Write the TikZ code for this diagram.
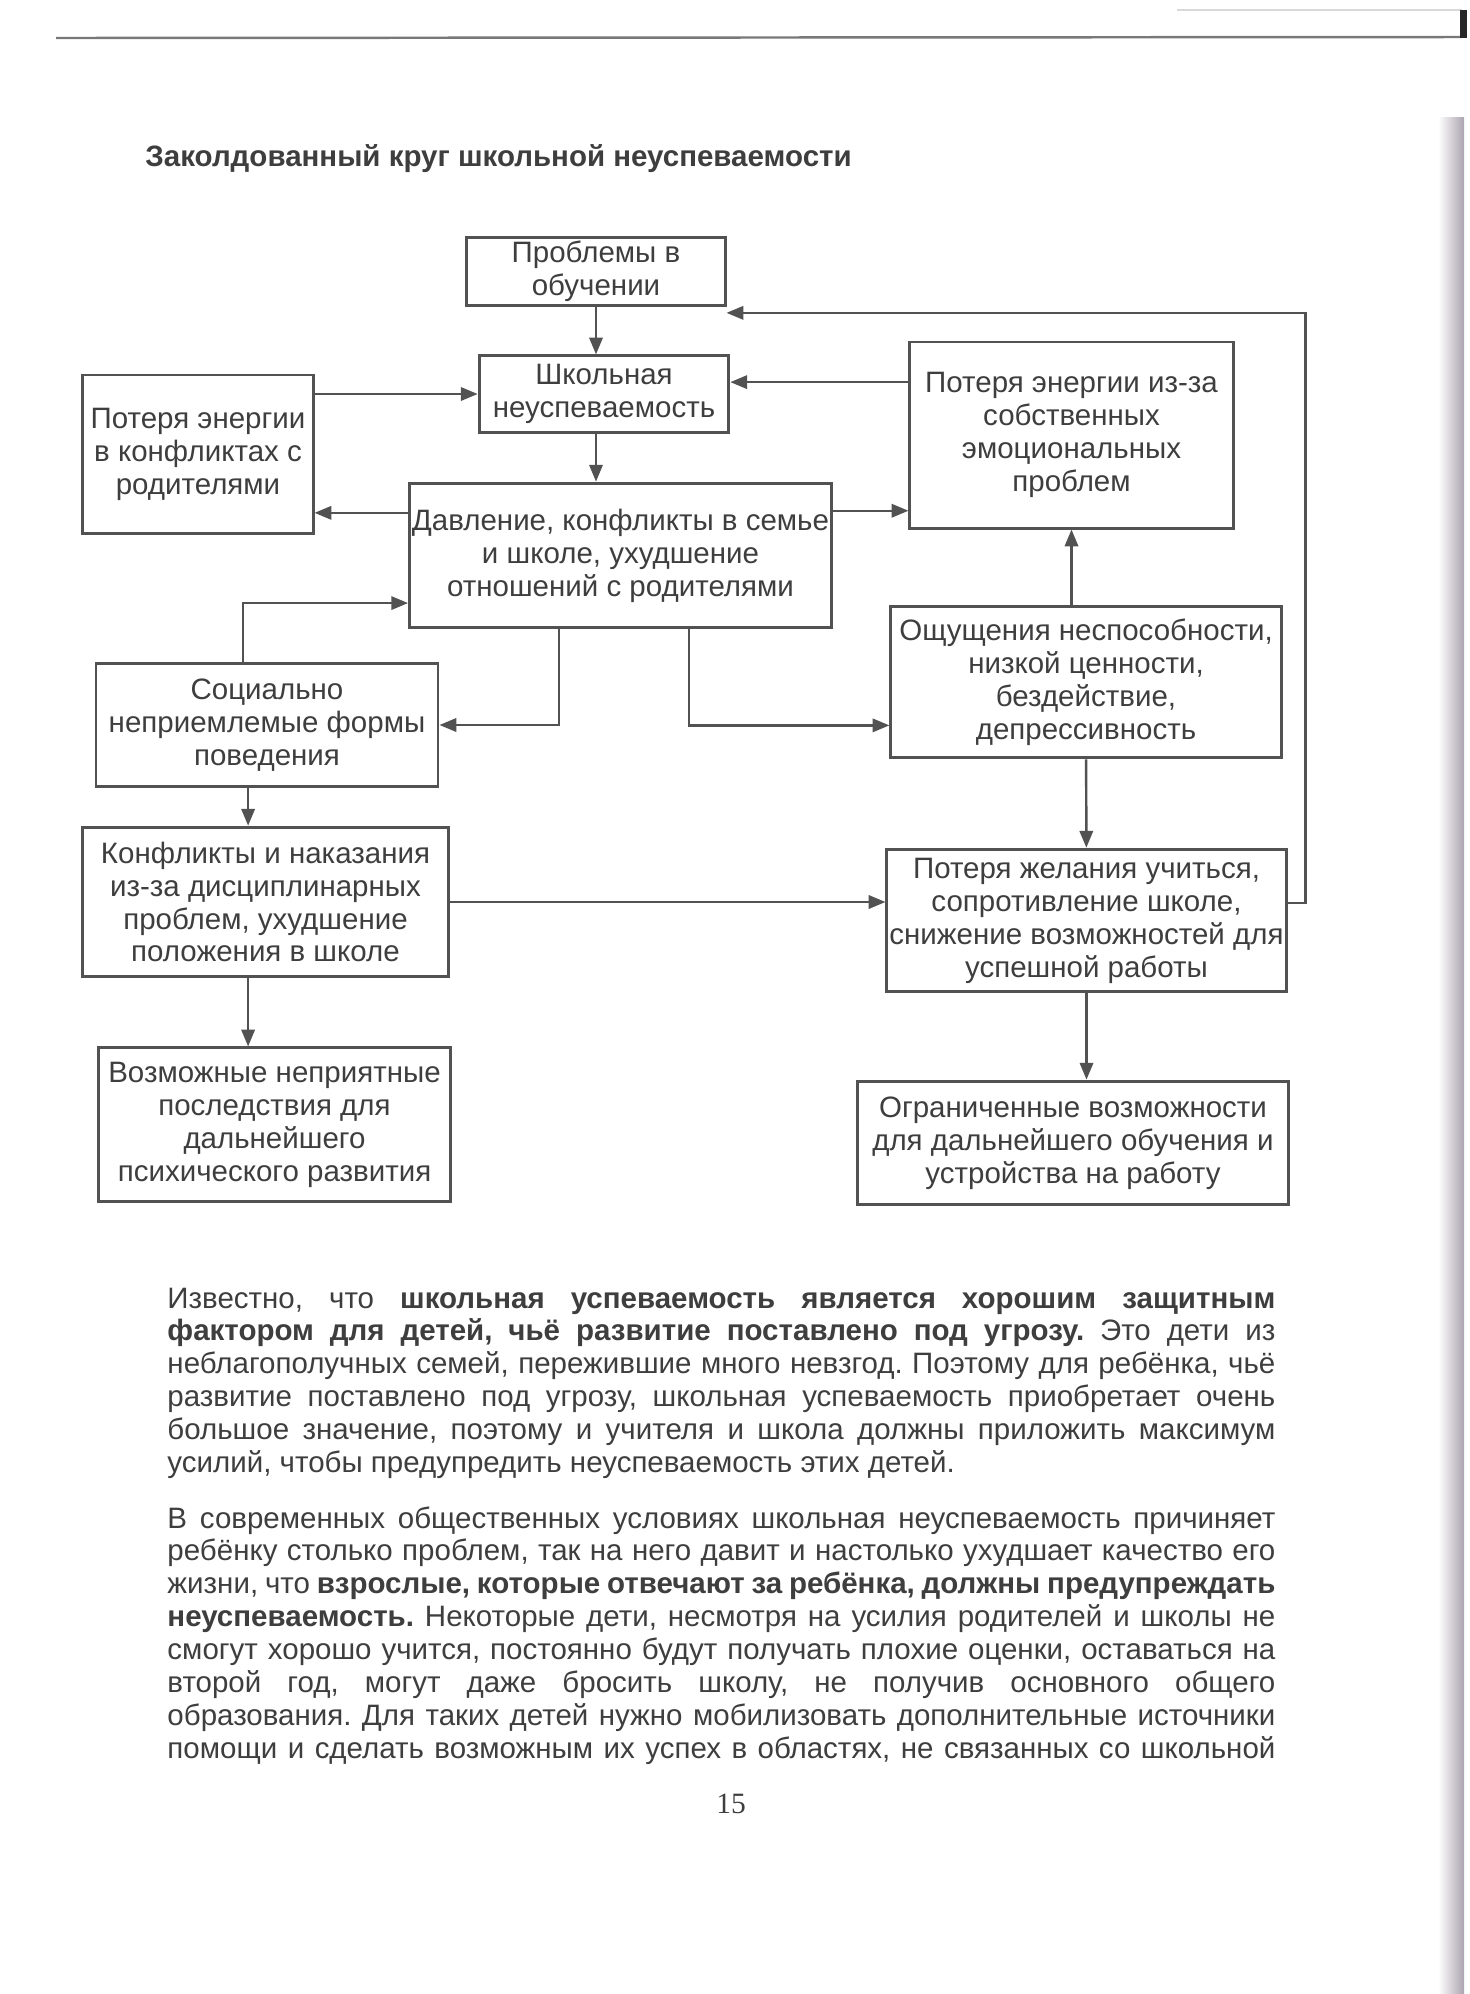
\documentclass[tikz,border=0pt]{standalone}
\usepackage{fontspec}
\setmainfont{Liberation Sans}
\newfontfamily\pagefont{Liberation Serif}
\usepackage{xcolor}
\usetikzlibrary{arrows.meta, positioning, calc}
\definecolor{ink}{RGB}{62,62,62}
\definecolor{wire}{RGB}{82,82,82}
\definecolor{bindgray}{RGB}{172,164,176}
\definecolor{rulegray}{RGB}{120,120,120}
\frenchspacing

\begin{document}
\begin{tikzpicture}[
  x=0.014296cm, y=-0.014296cm,
  box/.style={
    draw=wire,
    line width=1.2pt,
    align=center,
    inner sep=1pt,
    text=ink,
    font=\fontsize{12}{13.4}\selectfont
  },
  para/.style={
    text width=15.84cm,
    align=justify,
    inner sep=0pt,
    anchor=base west,
    text=ink,
    font=\fontsize{12}{13.4}\selectfont
  },
  arr/.style={-{Triangle[length=2.4mm, width=1.9mm]}, line width=1pt, wire}
]
\path[fill=white] (0,0) rectangle (1469,1994);
\draw[rulegray, line width=1pt] (56,38) -- (1462,37);
\draw[black!15, line width=0.6pt] (1177,10) -- (1462,10);
\fill[black!85] (1460,10) rectangle (1467,38);
\shade[left color=white, right color=bindgray] (1438,117) rectangle (1464,1994);

\node[font=\bfseries\fontsize{12}{14}\selectfont, text=ink, anchor=base west, inner sep=0pt] (title)
  at (145,166) {Заколдованный круг школьной неуспеваемости};

\node[box, minimum width=3.69cm, minimum height=0.96cm] (prob) at (596,271.5) {Проблемы в\\обучении};
\node[box, minimum width=3.57cm, minimum height=1.09cm] (shkol) at (604,394) {Школьная\\неуспеваемость};
\node[box, minimum width=3.29cm, minimum height=2.26cm] (rod) at (198,454) {Потеря энергии\\в конфликтах с\\родителями};
\node[box, minimum width=5.90cm, minimum height=2.07cm] (davl) at (620.5,555.5)
  {Давление, конфликты в семье\\и школе, ухудшение\\отношений с родителями};
\node[box, minimum width=4.62cm, minimum height=2.66cm] (emoc) at (1071.5,435)
  {Потеря энергии из-за\\собственных\\эмоциональных\\проблем};
\node[box, minimum width=4.89cm, minimum height=1.77cm] (soc) at (267,725)
  {Социально\\неприемлемые формы\\поведения};
\node[box, minimum width=5.58cm, minimum height=2.17cm] (oshch) at (1086,682)
  {Ощущения неспособности,\\низкой ценности,\\бездействие,\\депрессивность};
\node[box, minimum width=5.22cm, minimum height=2.14cm] (konfl) at (265.5,902)
  {Конфликты и наказания\\из-за дисциплинарных\\проблем, ухудшение\\положения в школе};
\node[box, minimum width=5.68cm, minimum height=2.04cm] (zhel) at (1086.5,920.5)
  {Потеря желания учиться,\\сопротивление школе,\\снижение возможностей для\\успешной работы};
\node[box, minimum width=5.02cm, minimum height=2.19cm] (vozm) at (274.5,1124.5)
  {Возможные неприятные\\последствия для\\дальнейшего\\психического развития};
\node[box, minimum width=6.15cm, minimum height=1.77cm] (ogr) at (1073,1143)
  {Ограниченные возможности\\для дальнейшего обучения и\\устройства на работу};

\coordinate (s2) at ([yshift=0.17cm]shkol.east);
\coordinate (d2r) at ([yshift=0.61cm]davl.west);
\coordinate (d2e) at ([yshift=0.64cm]davl.east);
\coordinate (s2d) at ([yshift=-0.68cm]davl.west);
\coordinate (d2o) at ([yshift=-0.62cm]oshch.west);
\coordinate (s2k) at ([xshift=-0.27cm]soc.south);
\coordinate (back) at ([yshift=-0.09cm]prob.south east);

\draw[arr] (prob.south) -- (prob.south |- shkol.north);
\draw[arr] (prob.south |- shkol.south) -- (prob.south |- davl.north);
\draw[arr] (rod.east |- shkol.west) -- (shkol.west);
\draw[arr] (d2r) -- (d2r -| rod.east);
\draw[arr] (emoc.west |- s2) -- (s2);
\draw[arr] (d2e) -- (d2e -| emoc.west);
\draw[arr] ([xshift=-0.34cm]soc.north) |- (s2d);
\draw[arr] ([xshift=-0.88cm]davl.south) |- (soc.east);
\draw[arr] ([xshift=0.98cm]davl.south) |- (d2o);
\draw[arr] (oshch.north -| emoc.south) -- (emoc.south);
\draw[arr] (oshch) -- (zhel);
\draw[arr] (s2k) -- (s2k |- konfl.north);
\draw[arr] (s2k |- konfl.south) -- (s2k |- vozm.north);
\draw[arr] (konfl.east) -- (konfl.east -| zhel.west);
\draw[arr] (zhel.south) -- (zhel.south |- ogr.north);
\draw[arr] ([yshift=0.25cm]zhel.east) -- ++(0.26cm,0) |- (back);

\node[para] (para1) at (167,1308) {Известно, что \textbf{школьная успеваемость является хорошим защитным}\linebreak
\textbf{фактором для детей, чьё развитие поставлено под угрозу.} Это дети из\linebreak
неблагополучных семей, пережившие много невзгод. Поэтому для ребёнка, чьё\linebreak
развитие поставлено под угрозу, школьная успеваемость приобретает очень\linebreak
большое значение, поэтому и учителя и школа должны приложить максимум\linebreak
усилий, чтобы предупредить неуспеваемость этих детей.};

\node[para] (para2) at (167,1528) {В современных общественных условиях школьная неуспеваемость причиняет\linebreak
ребёнку столько проблем, так на него давит и настолько ухудшает качество его\linebreak
жизни, что \textbf{взрослые, которые отвечают за ребёнка, должны предупреждать}\linebreak
\textbf{неуспеваемость.} Некоторые дети, несмотря на усилия родителей и школы не\linebreak
смогут хорошо учится, постоянно будут получать плохие оценки, оставаться на\linebreak
второй год, могут даже бросить школу, не получив основного общего\linebreak
образования. Для таких детей нужно мобилизовать дополнительные источники\linebreak
помощи и сделать возможным их успех в областях, не связанных со школьной\parfillskip=0pt\par};

\node[font=\pagefont\fontsize{12}{14}\selectfont, text=ink, anchor=base, inner sep=0pt] (pagenum)
  at (731,1813) {15};
\end{tikzpicture}
\end{document}
